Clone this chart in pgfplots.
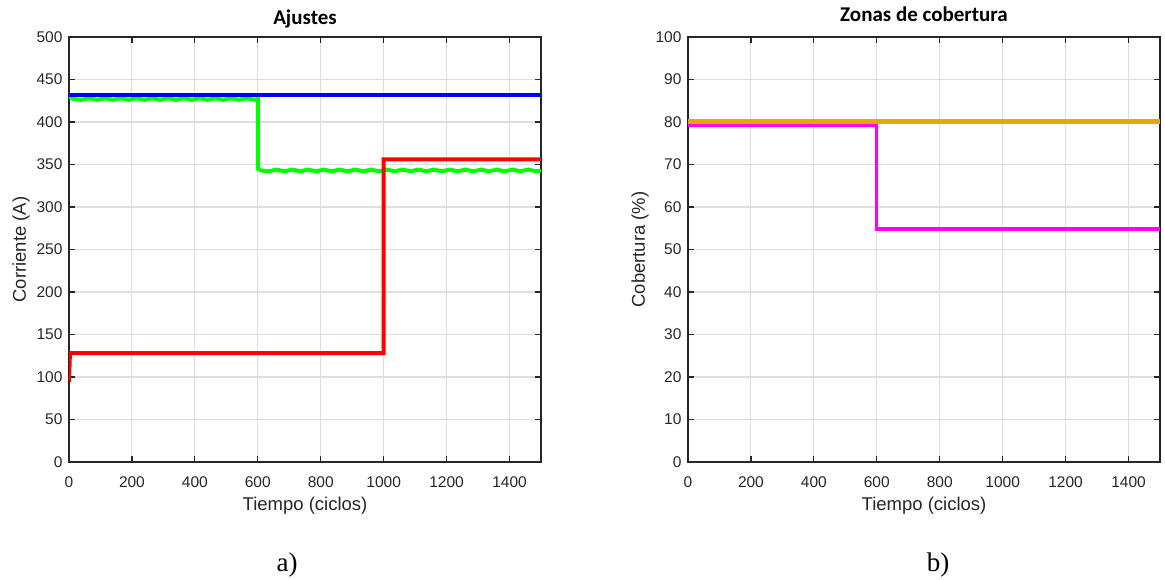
\documentclass[border=0pt]{standalone}
\usepackage{fontspec}
\setmainfont{Liberation Sans}
\newfontfamily\titlefont{Carlito}
\newfontfamily\capfont{Liberation Serif}
\usepackage{pgfplots}
\pgfplotsset{compat=1.18}

\definecolor{axgray}{RGB}{38,38,38}
\definecolor{gridgray}{RGB}{222,222,222}
\definecolor{matorange}{RGB}{232,166,0}
\definecolor{matgreen}{RGB}{0,255,0}
\definecolor{matred}{RGB}{255,0,0}
\definecolor{matblue}{RGB}{0,0,255}
\definecolor{matmagenta}{RGB}{255,0,255}

\pgfplotsset{
  matstyle/.style={
    scale only axis,
    width=472pt, height=425pt,
    xmin=0, xmax=1500,
    xtick={0,200,...,1400},
    grid=major,
    grid style={gridgray, line width=1.1pt},
    axis line style={axgray, line width=1.4pt},
    tick style={axgray, line width=1.2pt},
    tick align=inside,
    major tick length=6pt,
    ticklabel style={font=\fontsize{15.5}{18}\selectfont, text=axgray},
    xticklabel style={yshift=-11pt},
    yticklabel style={xshift=-3pt},
    label style={font=\fontsize{18.5}{21}\selectfont, text=axgray},
    /pgf/number format/assume math mode=true,
    /pgf/number format/1000 sep={},
    xlabel={Tiempo (ciclos)},
    xlabel style={yshift=-3pt},
    ylabel style={yshift=0pt},
    title style={font=\titlefont\bfseries\fontsize{21}{24}\selectfont, at={(0.5,1)}, anchor=base},
  }
}

\begin{document}
\begin{tikzpicture}[x=1pt,y=1pt]
\useasboundingbox (0,0) rectangle (1165,580);

\begin{axis}[matstyle,
  at={(69pt,118pt)}, anchor=south west,
  ymin=0, ymax=500, ytick={0,50,...,500},
  ylabel={Corriente (A)},
  title={Ajustes}, title style={yshift=6pt},
]
\addplot[color=matgreen, line width=4pt] coordinates {
  (0,430) (15,427) (40,426) (65,428) (90,426) (115,428) (140,426) (165,428)
  (190,426) (215,428) (240,426) (265,428) (290,426) (315,428) (340,426)
  (365,428) (390,426) (415,428) (440,426) (465,428) (490,426) (515,428)
  (540,426) (565,428) (590,426) (600,427)
  (600,345) (610,343) (635,342) (660,344) (685,342) (710,344) (735,342)
  (760,344) (785,342) (810,344) (835,342) (860,344) (885,342) (910,344)
  (935,342) (960,344) (985,342) (1010,344) (1035,342) (1060,344) (1085,342)
  (1110,344) (1135,342) (1160,344) (1185,342) (1210,344) (1235,342)
  (1260,344) (1285,342) (1310,344) (1335,342) (1360,344) (1385,342)
  (1410,344) (1435,342) (1460,344) (1485,342) (1500,343)
};
\addplot[color=matred, line width=4pt] coordinates {
  (0,94) (3,128) (1000,128) (1000,356) (1500,356)
};
\addplot[color=matblue, line width=3.6pt] coordinates {
  (0,432) (1500,432)
};
\end{axis}

\begin{axis}[matstyle,
  at={(688pt,118pt)}, anchor=south west,
  ymin=0, ymax=100, ytick={0,10,...,100},
  ylabel={Cobertura (\%)},
  title={Zonas de cobertura}, title style={yshift=9pt},
]
\addplot[color=matmagenta, line width=3.2pt] coordinates {
  (0,79.3) (600,79.3) (600,54.8) (1500,54.8)
};
\addplot[color=matorange, line width=4.4pt] coordinates {
  (0,80.1) (1500,80.1)
};
\end{axis}

\node[font=\capfont\fontsize{27}{30}\selectfont] at (287,15) {a)};
\node[font=\capfont\fontsize{27}{30}\selectfont] at (938,15) {b)};
\end{tikzpicture}
\end{document}
